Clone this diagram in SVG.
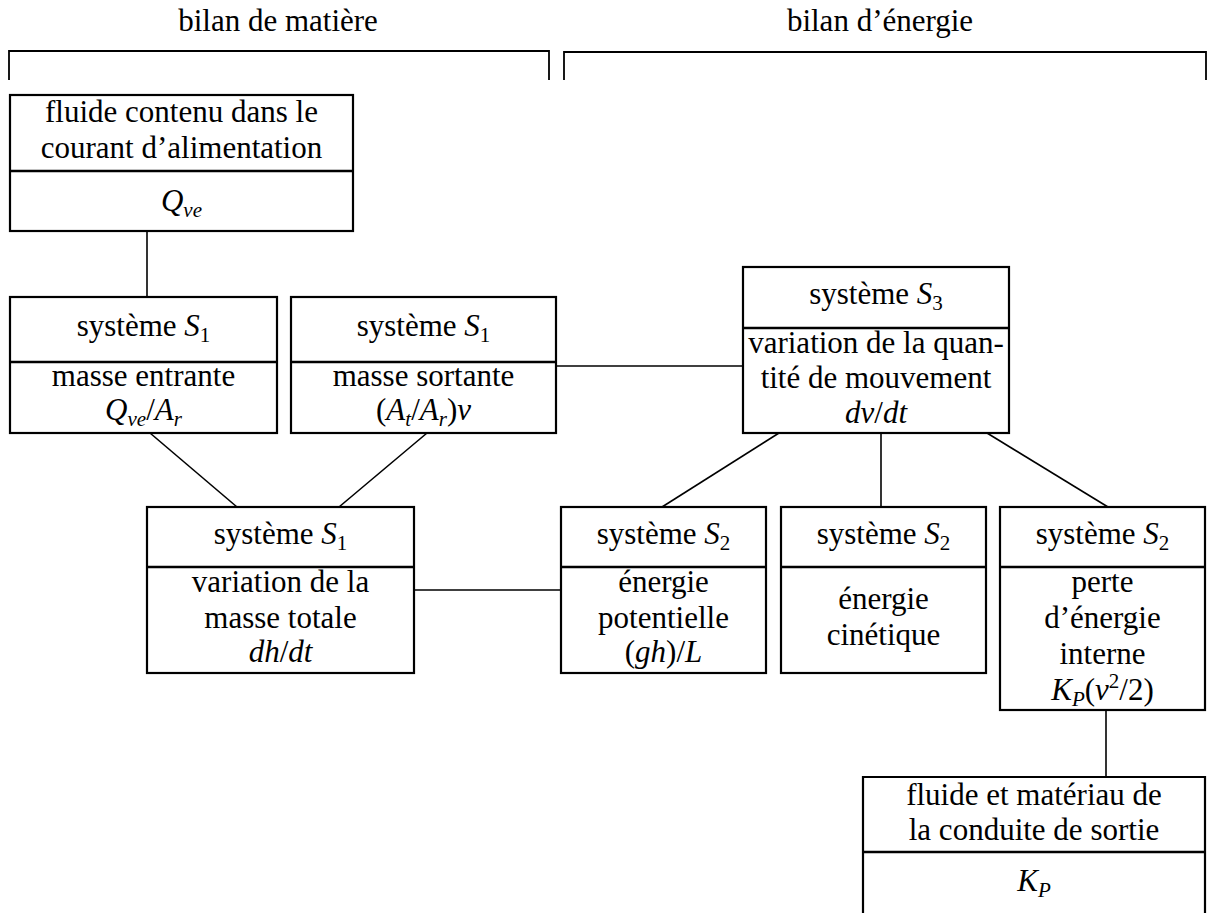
<svg xmlns="http://www.w3.org/2000/svg" width="1210" height="913" viewBox="0 0 1210 913">
<style>
.t{font-family:"Liberation Serif","Times New Roman",serif;font-size:31px;text-anchor:middle;fill:#000}
.i{font-style:italic}
.s{font-size:21px}
.box{fill:#fff;stroke:#000;stroke-width:2.2}
.div{stroke:#000;stroke-width:2.6}
.c{stroke:#000;stroke-width:1.6;fill:none}
.br{stroke:#000;stroke-width:1.8;fill:none}
</style>
<rect width="1210" height="913" fill="#fff"/>
<g id="headers">
<text class="t" x="278" y="31">bilan de matière</text>
<text class="t" x="880" y="31">bilan d’énergie</text>
<path class="br" d="M9,80 V51 H549 V80"/>
<path class="br" d="M564,80 V52 H1206 V80"/>
</g>
<g id="connectors">
<line class="c" x1="147" y1="231" x2="147" y2="297"/>
<line class="c" x1="150" y1="433" x2="237" y2="507"/>
<line class="c" x1="427" y1="433" x2="339" y2="507"/>
<line class="c" x1="556" y1="366" x2="743" y2="366"/>
<line class="c" x1="414" y1="590" x2="561" y2="590"/>
<line class="c" x1="779" y1="433" x2="662" y2="507"/>
<line class="c" x1="881" y1="433" x2="881" y2="507"/>
<line class="c" x1="987" y1="433" x2="1108" y2="507"/>
<line class="c" x1="1106" y1="710" x2="1106" y2="777"/>
</g>
<g id="nodeA">
<rect class="box" x="10" y="95" width="343" height="136"/>
<line class="div" x1="10" y1="171" x2="353" y2="171"/>
<text class="t" x="181.5" y="122">fluide contenu dans le</text>
<text class="t" x="181.5" y="158">courant d’alimentation</text>
<text class="t" x="181.5" y="211"><tspan class="i">Q</tspan><tspan class="i s" dy="6">ve</tspan></text>
</g>
<g id="nodeB">
<rect class="box" x="10" y="297" width="267" height="136"/>
<line class="div" x1="10" y1="362" x2="277" y2="362"/>
<text class="t" x="143.5" y="336">système <tspan class="i">S</tspan><tspan class="s" dy="6">1</tspan></text>
<text class="t" x="143.5" y="386">masse entrante</text>
<text class="t" x="143.5" y="420"><tspan class="i">Q</tspan><tspan class="i s" dy="6">ve</tspan><tspan dy="-6">/</tspan><tspan class="i">A</tspan><tspan class="i s" dy="6">r</tspan></text>
</g>
<g id="nodeC">
<rect class="box" x="291" y="297" width="265" height="136"/>
<line class="div" x1="291" y1="362" x2="556" y2="362"/>
<text class="t" x="423.5" y="336">système <tspan class="i">S</tspan><tspan class="s" dy="6">1</tspan></text>
<text class="t" x="423.5" y="386">masse sortante</text>
<text class="t" x="423.5" y="420">(<tspan class="i">A</tspan><tspan class="i s" dy="6">t</tspan><tspan dy="-6">/</tspan><tspan class="i">A</tspan><tspan class="i s" dy="6">r</tspan><tspan dy="-6">)</tspan><tspan class="i">v</tspan></text>
</g>
<g id="nodeS3">
<rect class="box" x="743" y="267" width="266" height="166"/>
<line class="div" x1="743" y1="328" x2="1009" y2="328"/>
<text class="t" x="876" y="304">système <tspan class="i">S</tspan><tspan class="s" dy="6">3</tspan></text>
<text class="t" x="876" y="353">variation de la quan-</text>
<text class="t" x="876" y="388">tité de mouvement</text>
<text class="t" x="876" y="423"><tspan class="i">dv</tspan>/<tspan class="i">dt</tspan></text>
</g>
<g id="nodeD">
<rect class="box" x="147" y="507" width="267" height="166"/>
<line class="div" x1="147" y1="567" x2="414" y2="567"/>
<text class="t" x="280.5" y="544">système <tspan class="i">S</tspan><tspan class="s" dy="6">1</tspan></text>
<text class="t" x="280.5" y="592">variation de la</text>
<text class="t" x="280.5" y="628">masse totale</text>
<text class="t" x="280.5" y="662"><tspan class="i">dh</tspan>/<tspan class="i">dt</tspan></text>
</g>
<g id="nodeE">
<rect class="box" x="561" y="507" width="205" height="166"/>
<line class="div" x1="561" y1="567" x2="766" y2="567"/>
<text class="t" x="663.5" y="544">système <tspan class="i">S</tspan><tspan class="s" dy="6">2</tspan></text>
<text class="t" x="663.5" y="592">énergie</text>
<text class="t" x="663.5" y="628">potentielle</text>
<text class="t" x="663.5" y="662">(<tspan class="i">gh</tspan>)/<tspan class="i">L</tspan></text>
</g>
<g id="nodeF">
<rect class="box" x="781" y="507" width="205" height="166"/>
<line class="div" x1="781" y1="567" x2="986" y2="567"/>
<text class="t" x="883.5" y="544">système <tspan class="i">S</tspan><tspan class="s" dy="6">2</tspan></text>
<text class="t" x="883.5" y="609">énergie</text>
<text class="t" x="883.5" y="645">cinétique</text>
</g>
<g id="nodeG">
<rect class="box" x="1000" y="507" width="205" height="203"/>
<line class="div" x1="1000" y1="567" x2="1205" y2="567"/>
<text class="t" x="1102.5" y="544">système <tspan class="i">S</tspan><tspan class="s" dy="6">2</tspan></text>
<text class="t" x="1102.5" y="592">perte</text>
<text class="t" x="1102.5" y="628">d’énergie</text>
<text class="t" x="1102.5" y="664">interne</text>
<text class="t" x="1102.5" y="700"><tspan class="i">K</tspan><tspan class="i s" dy="6">P</tspan><tspan dy="-6">(</tspan><tspan class="i">v</tspan><tspan class="s" dy="-12">2</tspan><tspan dy="12">/2)</tspan></text>
</g>
<g id="nodeH">
<path class="box" d="M863,913 V777 H1205 V913"/>
<line class="div" x1="863" y1="852" x2="1205" y2="852"/>
<text class="t" x="1034" y="805">fluide et matériau de</text>
<text class="t" x="1034" y="840">la conduite de sortie</text>
<text class="t" x="1034" y="891"><tspan class="i">K</tspan><tspan class="i s" dy="6">P</tspan></text>
</g>
</svg>
